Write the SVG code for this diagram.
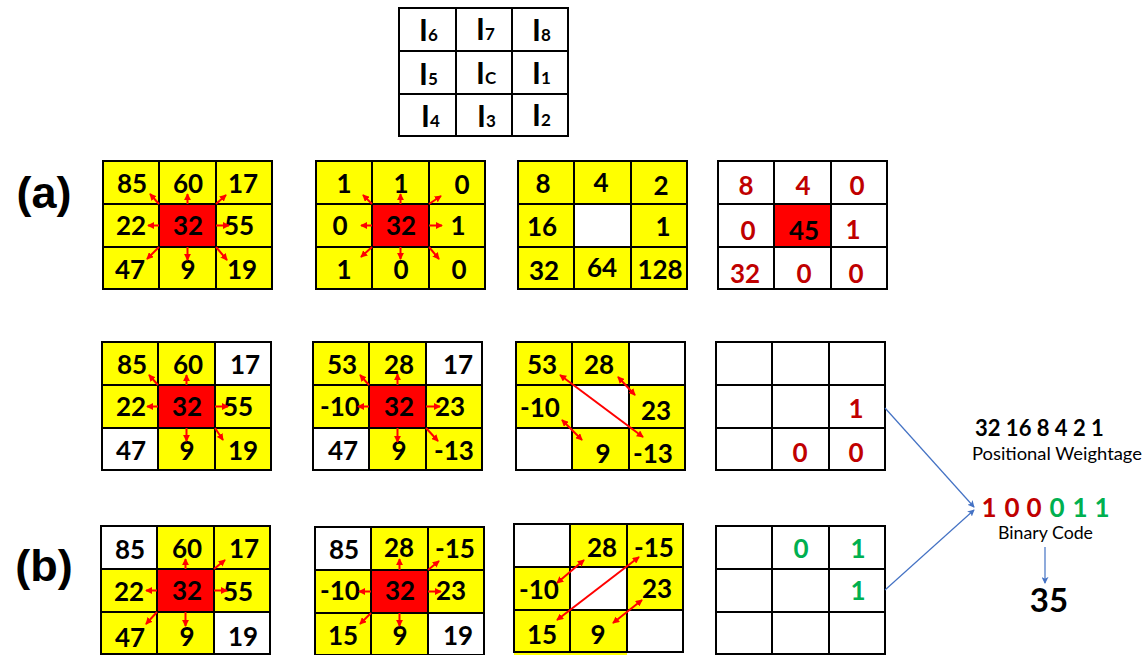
<svg xmlns="http://www.w3.org/2000/svg" width="1148" height="655" viewBox="0 0 1148 655">
<style>
.bg{fill:#fff}
.y{fill:#ffff00}
.w{fill:#fff}
.c{fill:#ff0000}
.n{font-family:Lato,"Liberation Sans",sans-serif;font-weight:700;font-size:26px;text-anchor:middle;fill:#000}
.rd{fill:#c00000}
.gr{fill:#00b050}
.ix{font-family:Lato,"Liberation Sans",sans-serif;font-weight:700;font-size:30px;fill:#000}
.sub{font-size:17px}
.lab{font-family:"Liberation Sans",Arial,sans-serif;font-weight:700;font-size:45px;fill:#000;text-anchor:middle}
.ra{stroke:#ff0000;stroke-width:2;fill:none;marker-end:url(#rh)}
.da{stroke:#ff0000;stroke-width:2;fill:none;marker-end:url(#rh);marker-start:url(#rh)}
.ba{stroke:#4472c4;stroke-width:1.2;fill:none;marker-end:url(#bh)}
.rt{font-family:Lato,"Liberation Sans",sans-serif;fill:#000}
</style>
<defs>
<marker id="rh" viewBox="0 0 8 8" refX="7" refY="4" markerWidth="7" markerHeight="7" markerUnits="userSpaceOnUse" orient="auto-start-reverse"><path d="M0,0 L8,4 L0,8 z" fill="#ff0000"/></marker>
<marker id="bh" viewBox="0 0 8 8" refX="7" refY="4" markerWidth="7" markerHeight="7" markerUnits="userSpaceOnUse" orient="auto"><path d="M0,0 L8,4 L0,8 L2,4 z" fill="#4472c4"/></marker>
<g id="grid">
<path d="M0,0H169V128H0Z M56,0V128 M113,0V128 M0,43H169 M0,86H169" fill="none" stroke="#000" stroke-width="2"/>
</g>
</defs>
<rect class="bg" x="0" y="0" width="1148" height="655"/>

<!-- index grid -->
<g id="index-grid">
<rect x="399" y="8" width="169" height="128" fill="#fff"/>
<path d="M399,8H568V136H399Z M456,8V136 M512,8V136 M399,51H568 M399,94H568" fill="none" stroke="#000" stroke-width="2"/>
<text class="ix" x="419" y="41">I<tspan class="sub">6</tspan></text>
<text class="ix" x="476" y="40">I<tspan class="sub">7</tspan></text>
<text class="ix" x="532" y="41">I<tspan class="sub">8</tspan></text>
<text class="ix" x="419" y="85">I<tspan class="sub">5</tspan></text>
<text class="ix" x="476" y="84">I<tspan class="sub">C</tspan></text>
<text class="ix" x="532" y="84">I<tspan class="sub">1</tspan></text>
<text class="ix" x="421" y="127">I<tspan class="sub">4</tspan></text>
<text class="ix" x="477" y="127">I<tspan class="sub">3</tspan></text>
<text class="ix" x="532" y="126">I<tspan class="sub">2</tspan></text>
</g>

<text id="label-a" class="lab" x="44" y="208">(a)</text>
<text id="label-b" class="lab" x="44" y="581">(b)</text>

<!-- (a) grid 1 -->
<g id="a1" transform="translate(103,161)">
<rect class="y" x="0" y="0" width="169" height="128"/>
<rect class="c" x="56" y="43" width="57" height="43"/>
<use href="#grid"/>
<text class="n" x="29" y="32">85</text><text class="n" x="85" y="32">60</text><text class="n" x="140" y="32">17</text>
<text class="n" x="28" y="74">22</text><text class="n" x="85" y="74">32</text><text class="n" x="136" y="74">55</text>
<text class="n" x="27" y="118">47</text><text class="n" x="85" y="118">9</text><text class="n" x="139" y="118">19</text>
</g>

<!-- (a) grid 2 -->
<g id="a2" transform="translate(316,161)">
<rect class="y" x="0" y="0" width="169" height="128"/>
<rect class="c" x="56" y="43" width="57" height="43"/>
<use href="#grid"/>
<text class="n" x="28" y="32">1</text><text class="n" x="85" y="32">1</text><text class="n" x="146" y="33">0</text>
<text class="n" x="24" y="74">0</text><text class="n" x="85" y="74">32</text><text class="n" x="142" y="74">1</text>
<text class="n" x="28" y="118">1</text><text class="n" x="85" y="118">0</text><text class="n" x="143" y="118">0</text>
</g>

<!-- (a) grid 3 -->
<g id="a3" transform="translate(518,161)">
<rect class="y" x="0" y="0" width="169" height="128"/>
<rect class="w" x="56" y="43" width="57" height="43"/>
<use href="#grid"/>
<text class="n" x="25" y="32">8</text><text class="n" x="83" y="31">4</text><text class="n" x="143" y="34">2</text>
<text class="n" x="24" y="75">16</text><text class="n" x="145" y="75">1</text>
<text class="n" x="26" y="119">32</text><text class="n" x="84" y="116">64</text><text class="n" x="142" y="118">128</text>
</g>

<!-- (a) grid 4 -->
<g id="a4" transform="translate(718,161)">
<rect class="w" x="0" y="0" width="169" height="128"/>
<rect class="c" x="57" y="44" width="56" height="42"/>
<use href="#grid"/>
<text class="n rd" x="28" y="34">8</text><text class="n rd" x="85" y="34">4</text><text class="n rd" x="139" y="34">0</text>
<text class="n rd" x="30" y="79">0</text><text class="n" x="86" y="79">45</text><text class="n rd" x="135" y="78">1</text>
<text class="n rd" x="27" y="122">32</text><text class="n rd" x="86" y="122">0</text><text class="n rd" x="138" y="122">0</text>
</g>

<!-- (b) row 1 grid 1 -->
<g id="b1" transform="translate(102,342)">
<rect class="y" x="0" y="0" width="169" height="128"/>
<rect class="w" x="113" y="0" width="56" height="43"/>
<rect class="w" x="0" y="86" width="56" height="43"/>
<rect class="c" x="56" y="43" width="57" height="43"/>
<use href="#grid"/>
<text class="n" x="30" y="32">85</text><text class="n" x="86" y="32">60</text><text class="n" x="143" y="32">17</text>
<text class="n" x="29" y="74">22</text><text class="n" x="85" y="74">32</text><text class="n" x="136" y="74">55</text>
<text class="n" x="29" y="118">47</text><text class="n" x="85" y="118">9</text><text class="n" x="141" y="118">19</text>
</g>

<!-- (b) row 1 grid 2 -->
<g id="b2" transform="translate(313,342)">
<rect class="y" x="0" y="0" width="169" height="128"/>
<rect class="w" x="113" y="0" width="56" height="43"/>
<rect class="w" x="0" y="86" width="56" height="43"/>
<rect class="c" x="56" y="43" width="57" height="43"/>
<use href="#grid"/>
<text class="n" x="29" y="32">53</text><text class="n" x="86" y="32">28</text><text class="n" x="145" y="32">17</text>
<text class="n" x="27" y="74">-10</text><text class="n" x="86" y="74">32</text><text class="n" x="137" y="74">23</text>
<text class="n" x="30" y="118">47</text><text class="n" x="86" y="118">9</text><text class="n" x="141" y="118">-13</text>
</g>

<!-- (b) row 1 grid 3 -->
<g id="b3" transform="translate(516,342)">
<rect class="y" x="0" y="0" width="169" height="128"/>
<rect class="w" x="113" y="0" width="56" height="43"/>
<rect class="w" x="56" y="43" width="57" height="43"/>
<rect class="w" x="0" y="86" width="56" height="43"/>
<use href="#grid"/>
<text class="n" x="26" y="32">53</text><text class="n" x="83" y="32">28</text>
<text class="n" x="24" y="75">-10</text><text class="n" x="140" y="78">23</text>
<text class="n" x="87" y="121">9</text><text class="n" x="137" y="121">-13</text>
</g>

<!-- (b) row 1 grid 4 -->
<g id="b4" transform="translate(716,342)">
<rect class="w" x="0" y="0" width="169" height="128"/>
<use href="#grid"/>
<text class="n rd" x="140" y="76">1</text>
<text class="n rd" x="84" y="120">0</text><text class="n rd" x="140" y="120">0</text>
</g>

<!-- (b) row 2 grid 1 -->
<g id="b5" transform="translate(101,526)">
<rect class="y" x="0" y="0" width="169" height="129"/>
<rect class="w" x="0" y="0" width="56" height="43"/>
<rect class="w" x="113" y="86" width="56" height="43"/>
<rect class="c" x="56" y="43" width="57" height="43"/>
<use href="#grid"/>
<text class="n" x="29" y="33">85</text><text class="n" x="86" y="32">60</text><text class="n" x="143" y="32">17</text>
<text class="n" x="28" y="75">22</text><text class="n" x="86" y="74">32</text><text class="n" x="137" y="75">55</text>
<text class="n" x="29" y="121">47</text><text class="n" x="86" y="120">9</text><text class="n" x="142" y="120">19</text>
</g>

<!-- (b) row 2 grid 2 -->
<g id="b6" transform="translate(315,527)">
<rect class="y" x="0" y="0" width="169" height="129"/>
<rect class="w" x="0" y="0" width="56" height="43"/>
<rect class="w" x="113" y="86" width="56" height="43"/>
<rect class="c" x="56" y="43" width="57" height="43"/>
<use href="#grid"/>
<text class="n" x="29" y="32">85</text><text class="n" x="84" y="30">28</text><text class="n" x="140" y="31">-15</text>
<text class="n" x="25" y="73">-10</text><text class="n" x="85" y="73">32</text><text class="n" x="136" y="73">23</text>
<text class="n" x="28" y="118">15</text><text class="n" x="85" y="118">9</text><text class="n" x="143" y="118">19</text>
</g>

<!-- (b) row 2 grid 3 -->
<g id="b7" transform="translate(514,524)">
<rect class="y" x="0" y="0" width="169" height="131"/>
<rect class="w" x="0" y="0" width="56" height="43"/>
<rect class="w" x="56" y="43" width="57" height="43"/>
<rect class="w" x="113" y="86" width="56" height="45"/>
<use href="#grid"/>
<text class="n" x="88" y="33">28</text><text class="n" x="140" y="33">-15</text>
<text class="n" x="25" y="75">-10</text><text class="n" x="143" y="74">23</text>
<text class="n" x="28" y="120">15</text><text class="n" x="84" y="120">9</text>
</g>

<!-- (b) row 2 grid 4 -->
<g id="b8" transform="translate(716,526)">
<rect class="w" x="0" y="0" width="169" height="129"/>
<use href="#grid"/>
<text class="n gr" x="85" y="32">0</text><text class="n gr" x="142" y="32">1</text>
<text class="n gr" x="142" y="74">1</text>
</g>

<!-- right side texts -->
<g id="weights">
<text class="rt" x="975" y="436" font-size="22" font-weight="700">32 16 8 4 2 1</text>
<text class="rt" x="972" y="460" font-size="18" textLength="170" lengthAdjust="spacingAndGlyphs">Positional Weightage</text>
</g>
<g id="binary">
<text class="n rd" x="989" y="517" font-size="24">1</text>
<text class="n rd" x="1012" y="517" font-size="24">0</text>
<text class="n rd" x="1034" y="517" font-size="24">0</text>
<text class="n gr" x="1057" y="517" font-size="24">0</text>
<text class="n gr" x="1080" y="517" font-size="24">1</text>
<text class="n gr" x="1102" y="517" font-size="24">1</text>
<text class="rt" x="998" y="539" font-size="17" textLength="95" lengthAdjust="spacingAndGlyphs">Binary Code</text>
</g>
<g id="result">
<text class="rt" x="1049" y="612" font-size="33" font-weight="700" text-anchor="middle">35</text>
</g>

<!-- connectors -->
<g id="connectors">
<g transform="translate(103,161)">
<path class="ra" d="M56,43L47,33"/><path class="ra" d="M84.5,43V33"/><path class="ra" d="M113,43L123,34"/>
<path class="ra" d="M56,64.5H45"/><path class="ra" d="M113,64.5H126"/>
<path class="ra" d="M56,86L44,98"/><path class="ra" d="M84.5,86V99"/><path class="ra" d="M113,86L124,99"/>
</g>
<g transform="translate(316,161)">
<path class="ra" d="M56,43L47,34"/><path class="ra" d="M84.5,43V33"/><path class="ra" d="M113,43L125,35"/>
<path class="ra" d="M56,64.5H45"/><path class="ra" d="M113,64.5H126"/>
<path class="ra" d="M56,86L45,96"/><path class="ra" d="M84.5,86V98"/><path class="ra" d="M113,86L123,98"/>
</g>
<g transform="translate(102,342)">
<path class="ra" d="M56,43L47,33"/><path class="ra" d="M84.5,43V33"/>
<path class="ra" d="M56,64.5H45"/><path class="ra" d="M113,64.5H126"/>
<path class="ra" d="M84.5,86V99"/><path class="ra" d="M113,86L121,98"/>
</g>
<g transform="translate(313,342)">
<path class="ra" d="M56,43L47,33"/><path class="ra" d="M84.5,43V32"/>
<path class="ra" d="M56,64.5H45"/><path class="ra" d="M113,64.5H127"/>
<path class="ra" d="M84.5,86V100"/><path class="ra" d="M113,86L125,99"/>
</g>
<g transform="translate(101,526)">
<path class="ra" d="M84.5,43V33"/><path class="ra" d="M113,43L124,34"/>
<path class="ra" d="M56,64.5H45"/><path class="ra" d="M113,64.5H126"/>
<path class="ra" d="M56,86L45,98"/><path class="ra" d="M84.5,86V100"/>
</g>
<g transform="translate(315,527)">
<path class="ra" d="M84.5,43V32"/><path class="ra" d="M113,43L124,34"/>
<path class="ra" d="M56,64.5H44"/><path class="ra" d="M113,64.5H126"/>
<path class="ra" d="M56,86L45,97"/><path class="ra" d="M84.5,86V99"/>
</g>
<path class="da" d="M560,375L643,437"/>
<path class="da" d="M618,377L635,395"/>
<path class="da" d="M562,420L582,440"/>
<path class="da" d="M639,557L557,620"/>
<path class="da" d="M584,560L557,583"/>
<path class="da" d="M642,600L613,623"/>
<path class="ba" d="M885,408L974,507"/>
<path class="ba" d="M885,590L974,510"/>
<path class="ba" d="M1045,547V583"/>
</g>
</svg>
